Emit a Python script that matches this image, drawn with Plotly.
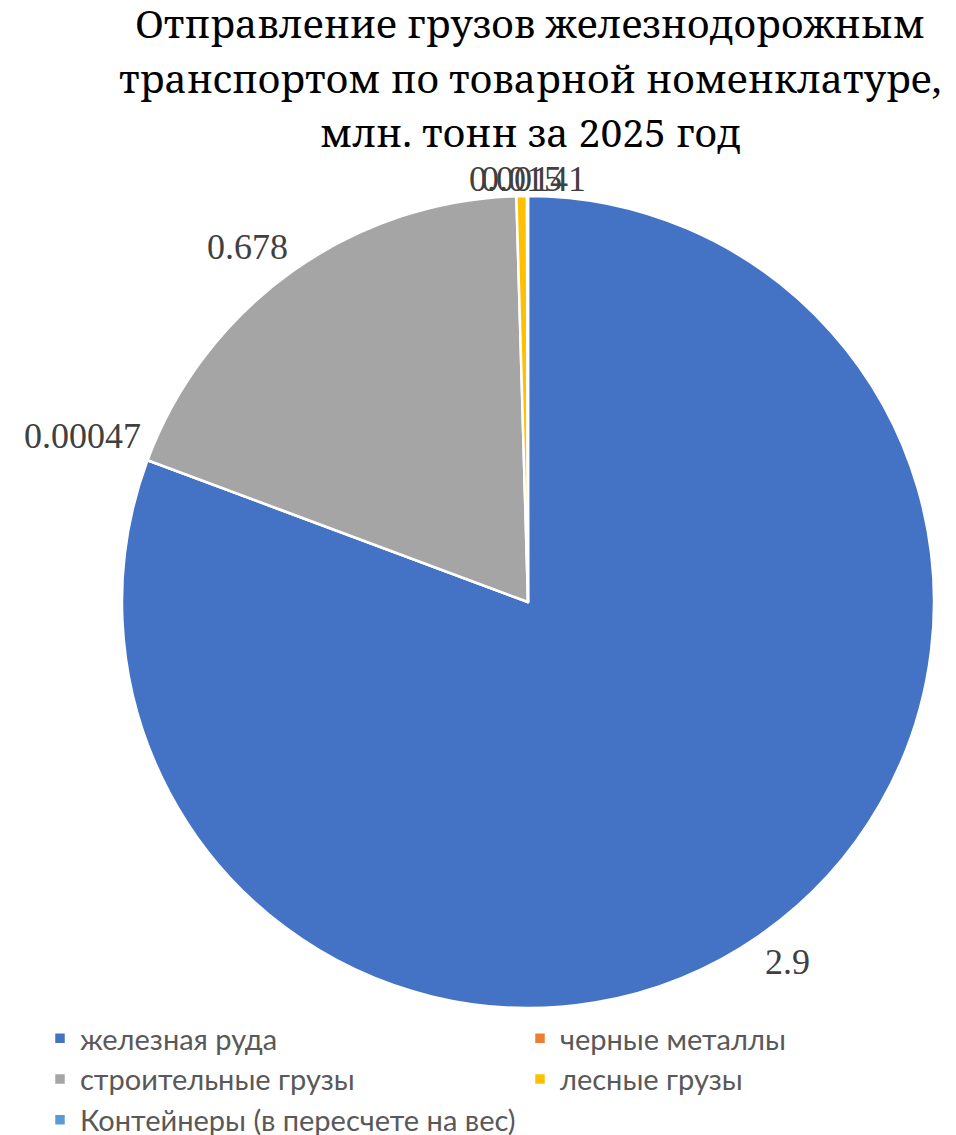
import math
import plotly.graph_objects as go

categories = ["железная руда", "черные металлы", "строительные грузы", "лесные грузы",
              "Контейнеры (в пересчете на вес)"]
values = [2.9, 0.00047, 0.678, 0.015, 0.00141]
value_labels = ["2.9", "0.00047", "0.678", "0.015", "0.00141"]
colors = ["#4472C4", "#ED7D31", "#A5A5A5", "#FFC000", "#5B9BD5"]
title_lines = ["Отправление грузов железнодорожным",
               "транспортом по товарной номенклатуре,",
               "млн. тонн за 2025 год"]

W, H = 956, 1135
OFF = 8  # page body margin offsets the figure by this many pixels
CX, CY, R = 528 - OFF, 602 - OFF, 406  # pie centre / radius in figure pixels
SERIF = "Liberation Serif"
TITLE_FONT = "Noto Serif, Liberation Serif, serif"
TITLE_TOP, TITLE_STEP = 22, 55  # screen y of first title line centre, line spacing

fig = go.Figure(go.Pie(
    labels=categories,
    values=values,
    marker=dict(colors=colors, line=dict(color="white", width=2.5)),
    sort=False,
    direction="clockwise",
    rotation=0,
    textinfo="none",
    hoverinfo="label+value",
    domain=dict(x=[(CX - R) / W, (CX + R) / W], y=[1 - (CY + R) / H, 1 - (CY - R) / H]),
))

# data labels placed just outside each slice, derived from the slice mid-angles
total = sum(values)
cum = 0.0
annotations = []
for v, lab in zip(values, value_labels):
    mid = (cum + v / 2) / total * 2 * math.pi
    cum += v
    s, c = math.sin(mid), math.cos(mid)
    gap = 5 - 10 * max(0.0, c) ** 8
    px = CX + s * (R + gap)
    py = CY - c * (R + gap)
    xa = "left" if s > 0.3 else ("right" if s < -0.3 else "center")
    ya = "bottom" if c > 0.3 else ("top" if c < -0.3 else "middle")
    annotations.append(dict(
        x=px / W, y=1 - py / H, xref="paper", yref="paper",
        text=lab, showarrow=False, xanchor=xa, yanchor=ya,
        font=dict(family=SERIF, size=36, color="#404040"),
    ))

# chart title, one annotation per line for reference-like line spacing
for i, line in enumerate(title_lines):
    ys = TITLE_TOP + i * TITLE_STEP - OFF
    annotations.append(dict(
        x=(530 - OFF) / W, y=1 - ys / H, xref="paper", yref="paper",
        xanchor="center", yanchor="middle",
        text=line, showarrow=False,
        font=dict(family=TITLE_FONT, size=39, color="black"),
    ))

fig.update_layout(
    width=W, height=H,
    margin=dict(l=0, r=0, t=0, b=0, autoexpand=False),
    paper_bgcolor="white", plot_bgcolor="white",
    annotations=annotations,
    showlegend=True,
    legend=dict(orientation="h", x=(40 - OFF) / W, xanchor="left", y=1 - (1013 - OFF) / H, yanchor="top",
                entrywidth=435, entrywidthmode="pixels", traceorder="normal",
                font=dict(family="Lato", size=29, color="#595959"),
                itemwidth=30, tracegroupgap=0),
)

fig.write_html("out.html")
